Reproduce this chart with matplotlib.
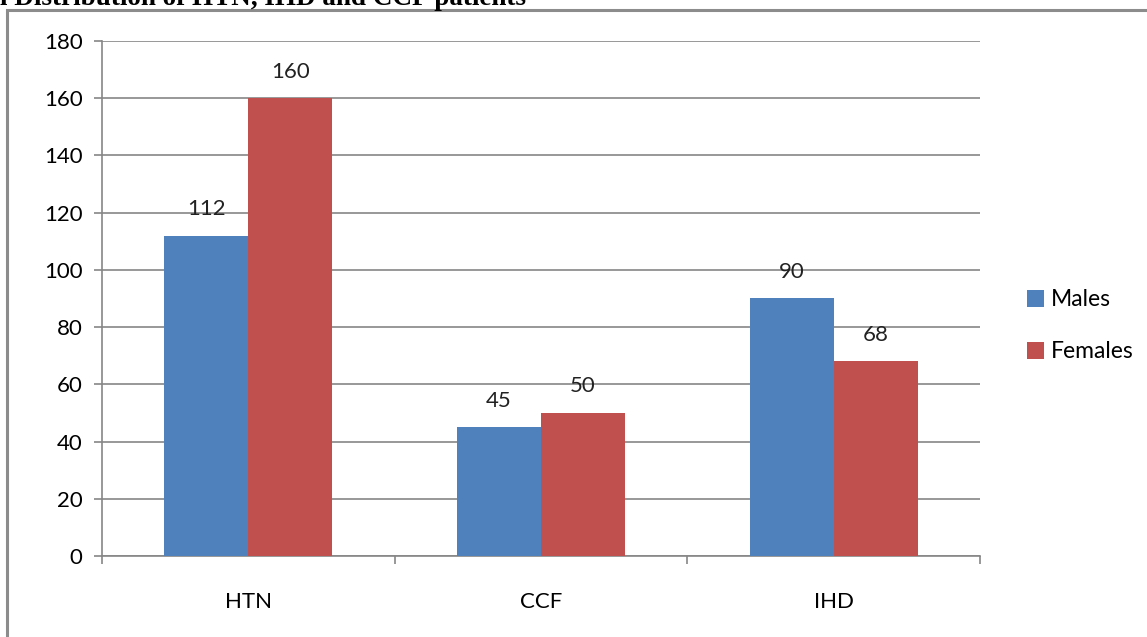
import matplotlib
matplotlib.use("Agg")
import matplotlib.pyplot as plt
from matplotlib.patches import Rectangle
import numpy as np

plt.rcParams['font.family'] = ['Lato', 'DejaVu Sans']

# data
categories = ['HTN', 'CCF', 'IHD']
males = [112, 45, 90]
females = [160, 50, 68]
series_names = ['Males', 'Females']
yticks = [0, 20, 40, 60, 80, 100, 120, 140, 160, 180]

blue = '#4F81BD'
red = '#C0504D'
grid_col = '#868686'

fig = plt.figure(figsize=(11.47, 6.37), dpi=100)
ax = fig.add_axes([0.0889, 0.1272, 0.7655, 0.8084])

x = np.arange(len(categories))
w = 0.287
b1 = ax.bar(x - w/2, males, w, color=blue, label=series_names[0], zorder=3)
b2 = ax.bar(x + w/2, females, w, color=red, label=series_names[1], zorder=3)

for bars in (b1, b2):
    for rect in bars:
        h = rect.get_height()
        ax.annotate(str(h), (rect.get_x() + rect.get_width()/2, h),
                    xytext=(0, 12), textcoords='offset points',
                    ha='center', va='bottom', fontsize=16, color='#222222')

ax.set_xlim(-0.5, 2.5)
ax.set_ylim(0, 180)
ax.set_yticks(yticks)
ax.yaxis.grid(True, color=grid_col, linewidth=1.2, zorder=0)
ax.set_axisbelow(True)

ax.set_xticks(x)
ax.set_xticklabels(categories)
ax.set_xticks([-0.5, 0.5, 1.5, 2.5], minor=True)
ax.tick_params(axis='x', which='major', length=0, pad=26, labelsize=16)
ax.tick_params(axis='x', which='minor', length=6, color=grid_col, width=1.2)
ax.tick_params(axis='y', length=6, color=grid_col, width=1.2, pad=8, labelsize=16)

for s in ['top', 'right']:
    ax.spines[s].set_visible(False)
for s in ['left', 'bottom']:
    ax.spines[s].set_color(grid_col)
    ax.spines[s].set_linewidth(1.2)

ax.legend(loc='center left', bbox_to_anchor=(1.03, 0.447), frameon=False,
          fontsize=16.5, handlelength=0.75, handleheight=0.75, handletextpad=0.3,
          labelspacing=1.35)

# outer chart frame (clipped by the page)
fig.patches.append(Rectangle((7/1147, -0.05), 1.2, 1 - 10/637 + 0.05,
                             transform=fig.transFigure, fill=False,
                             edgecolor='#8C8C8C', linewidth=2.2))

# title clipped off at the top of the screenshot
fig.text(0.0, 1 - 5/637, 'l Distribution of HTN, IHD and CCF patients',
         family='Liberation Serif', fontweight='bold', fontsize=19.5,
         ha='left', va='baseline')

fig.savefig('out.png', dpi=100)
